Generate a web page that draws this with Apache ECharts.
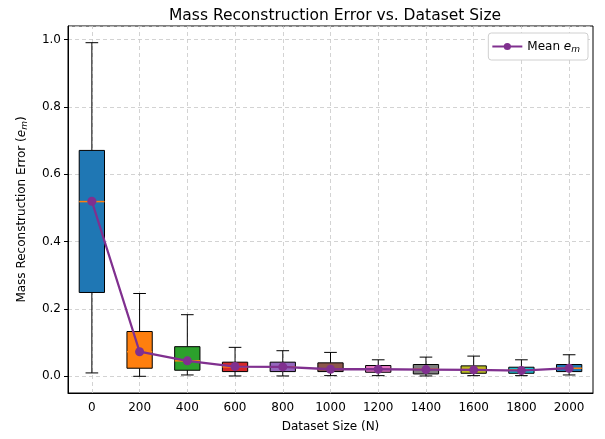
<!DOCTYPE html>
<html>
<head>
<meta charset="utf-8">
<script src="https://cdn.jsdelivr.net/npm/echarts@6/dist/echarts.min.js"></script>
<style>
html,body{margin:0;padding:0;background:#fff;}
#c{width:605px;height:439px;}
</style>
</head>
<body>
<div id="c"></div>
<script>
// ---- data ----
const categories = ['0','200','400','600','800','1000','1200','1400','1600','1800','2000'];
const whiskerLow = [0.010, 0.000, 0.004, 0.001, 0.001, 0.002, 0.002, 0.001, 0.002, 0.002, 0.004];
const q1Values   = [0.249, 0.024, 0.018, 0.014, 0.014, 0.014, 0.012, 0.007, 0.009, 0.009, 0.014];
const medians    = [0.519, 0.073, 0.046, 0.028, 0.028, 0.021, 0.021, 0.021, 0.020, 0.019, 0.024];
const q3Values   = [0.671, 0.133, 0.088, 0.042, 0.042, 0.040, 0.032, 0.035, 0.031, 0.027, 0.035];
const whiskerHigh= [0.991, 0.246, 0.183, 0.086, 0.076, 0.071, 0.049, 0.057, 0.060, 0.049, 0.064];
const meanValues = [0.520, 0.073, 0.046, 0.029, 0.028, 0.021, 0.021, 0.020, 0.019, 0.017, 0.024];
const yTicks = [0.0, 0.2, 0.4, 0.6, 0.8, 1.0];
const boxColors = ['#1f77b4','#ff7f0e','#2ca02c','#d62728','#9467bd','#8c564b','#e377c2','#7f7f7f','#bcbd22','#17becf','#1f77b4'];

const boxRows = categories.map((c, i) => [i, whiskerLow[i], q1Values[i], medians[i], q3Values[i], whiskerHigh[i]]);

const FONT = 'DejaVu Sans';
const chart = echarts.init(document.getElementById('c'), null, {renderer: 'canvas'});

function renderBox(params, api) {
  const i = api.value(0);
  const lo = api.coord([i, api.value(1)]);
  const q1 = api.coord([i, api.value(2)]);
  const md = api.coord([i, api.value(3)]);
  const q3 = api.coord([i, api.value(4)]);
  const hi = api.coord([i, api.value(5)]);
  const bw = api.size([1, 0])[0] * 0.53;
  const cx = lo[0];
  const cap = bw / 2;
  const black = {stroke: '#000', lineWidth: 1};
  return {
    type: 'group',
    children: [
      {type: 'line', shape: {x1: cx, y1: lo[1], x2: cx, y2: q1[1]}, style: black},
      {type: 'line', shape: {x1: cx, y1: q3[1], x2: cx, y2: hi[1]}, style: black},
      {type: 'line', shape: {x1: cx - cap/2, y1: lo[1], x2: cx + cap/2, y2: lo[1]}, style: black},
      {type: 'line', shape: {x1: cx - cap/2, y1: hi[1], x2: cx + cap/2, y2: hi[1]}, style: black},
      {type: 'rect', shape: {x: cx - bw/2, y: q3[1], width: bw, height: q1[1] - q3[1]},
        style: {fill: boxColors[i % boxColors.length], stroke: '#000', lineWidth: 1}},
      {type: 'line', shape: {x1: cx - bw/2, y1: md[1], x2: cx + bw/2, y2: md[1]},
        style: {stroke: '#ff7f0e', lineWidth: 1.5}}
    ]
  };
}

const subRich = {
  a: {fontFamily: FONT, fontSize: 12, color: '#000', lineHeight: 16},
  i: {fontFamily: FONT, fontSize: 12, fontStyle: 'italic', color: '#000', lineHeight: 16},
  s: {fontFamily: FONT, fontSize: 9, fontStyle: 'italic', color: '#000', lineHeight: 16, padding: [6, 0, 0, 0]}
};

const option = {
  backgroundColor: '#fff',
  animation: false,
  title: {
    text: 'Mass Reconstruction Error vs. Dataset Size',
    left: 330, top: 3, textAlign: 'center',
    textStyle: {fontFamily: FONT, fontSize: 15.5, fontWeight: 'normal', color: '#000'}
  },
  grid: {left: 68, right: 12, top: 26, bottom: 46, show: true, borderColor: '#000', borderWidth: 1,
         containLabel: false, outerBoundsMode: 'none'},
  legend: {
    right: 17, top: 33,
    data: ['Mean'],
    itemWidth: 30, itemHeight: 9, itemGap: 6,
    backgroundColor: '#fff', borderColor: '#d0d0d0', borderWidth: 1, borderRadius: 3,
    padding: [6, 8, 6, 3],
    formatter: function () { return '{a|Mean }{i|e}{s|m}'; },
    textStyle: {fontFamily: FONT, fontSize: 12, color: '#000', rich: subRich}
  },
  xAxis: {
    type: 'category',
    data: categories,
    boundaryGap: true,
    name: 'Dataset Size (N)',
    nameLocation: 'middle', nameGap: 28,
    nameTextStyle: {fontFamily: FONT, fontSize: 12, color: '#000'},
    axisLine: {onZero: false, lineStyle: {color: '#000', width: 1}},
    axisTick: {alignWithLabel: true, length: 4, lineStyle: {color: '#000'}},
    axisLabel: {fontFamily: FONT, fontSize: 12, color: '#000', margin: 9, interval: 0},
    splitLine: {show: false}
  },
  yAxis: {
    type: 'value',
    min: -0.0496, max: 1.0406,
    name: '{a|Mass Reconstruction Error (}{i|e}{s|m}{a|)}',
    nameLocation: 'middle', nameGap: 38, nameRotate: 90,
    nameTextStyle: {fontFamily: FONT, fontSize: 12, color: '#000', rich: subRich},
    axisLine: {show: true, lineStyle: {color: '#000', width: 1}},
    axisTick: {show: true, length: 4, lineStyle: {color: '#000'}},
    axisLabel: {
      fontFamily: FONT, fontSize: 12, color: '#000', margin: 7,
      showMinLabel: false, showMaxLabel: false,
      formatter: function (v) {
        const hit = yTicks.some(t => Math.abs(t - v) < 1e-6);
        return hit ? v.toFixed(1) : '';
      }
    },
    splitLine: {show: true, lineStyle: {color: '#c8c8c8', type: [4, 3], width: 0.8}}
  },
  series: [
    {
      name: 'grid-x', type: 'line', data: [], z: 0, silent: true,
      markLine: {
        z: 0, silent: true, symbol: ['none', 'none'], label: {show: false},
        lineStyle: {color: '#c8c8c8', type: [4, 3], width: 0.8},
        emphasis: {disabled: true},
        data: categories.map(c => ({xAxis: c}))
      }
    },
    {
      name: 'box', type: 'custom', renderItem: renderBox, data: boxRows,
      encode: {x: 0, y: [1, 2, 3, 4, 5]}, z: 2, silent: true
    },
    {
      name: 'Mean', type: 'line', data: meanValues, z: 4,
      symbol: 'circle', symbolSize: 9, showSymbol: true,
      lineStyle: {color: '#80308f', width: 2.3},
      itemStyle: {color: '#80308f'}
    }
  ]
};
chart.setOption(option);
</script>
</body>
</html>
